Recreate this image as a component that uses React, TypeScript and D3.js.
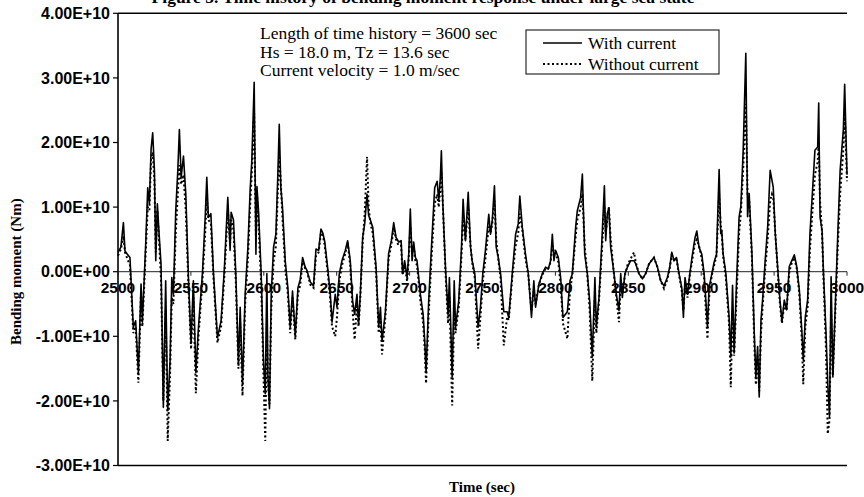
import React from "react";
import * as d3 from "d3";

// time (sec)
const timeSec = [
2500,2502,2503.7,2504.8,2506.4,2508.2,2510.5,2512.1,2514,2515.8,2516.7,2519,2520.4,2521.5,2522.7,2523.8,2525,2525.9,2527,2528.2,
2529.5,2531.1,2532.7,2534.1,2535.7,2536.9,2538,2539.6,2541,2542.1,2543.3,2544.9,2546.5,2548.3,2550.1,2551.7,2553.4,2555.2,2557.9,2559.8,
2560.9,2562,2563.7,2565.5,2568.2,2570.7,2573,2575.3,2576.9,2577.6,2579.2,2580.8,2582.6,2583.8,2585.4,2587.2,2589.1,2590.7,2591.8,2593.4,
2594.6,2595.3,2596.4,2598.2,2599.8,2601,2602.1,2602.8,2603.9,2605.1,2606.7,2608.3,2609.7,2610.6,2611.7,2612.8,2614.7,2616.5,2618.1,2619.7,
2621.6,2623.4,2625,2626.6,2628.4,2629.6,2631.9,2634.1,2635.8,2637.6,2639.2,2640.3,2641.7,2644,2645.6,2646.8,2649,2650.2,2651.8,2653.6,
2655.9,2657.5,2659.3,2660.9,2662.3,2663.9,2665,2666.2,2667.8,2669.2,2670.8,2671.9,2673.1,2674.7,2677,2678.8,2680,2681.1,2683.4,2685.6,
2687.5,2689.1,2690.7,2692.5,2694.2,2695.2,2696.6,2698.3,2699.4,2700.5,2701.7,2702.8,2704,2705.1,2707.4,2709.3,2710.4,2711.3,2713.1,2715,
2717.2,2718.9,2720,2721.1,2721.8,2722.7,2724.6,2726.4,2727.3,2729.2,2730.6,2731.5,2733.7,2735.6,2736.7,2738.3,2740.2,2741.8,2742.9,2744.7,
2747,2748.6,2750.2,2752,2754.3,2755.5,2756.7,2758.2,2759.4,2760.8,2762.4,2764.6,2766.9,2768,2770.4,2772.7,2774.5,2775.6,2777.3,2779.5,
2781.4,2783.6,2785.2,2786.4,2788.7,2791,2793.3,2795.1,2796.7,2797.9,2799,2800.1,2802,2803.6,2805.2,2808.2,2810,2811.6,2813.9,2815,
2817.3,2818.5,2820.1,2821.9,2823.5,2825.3,2827.1,2828.1,2829.9,2831.7,2833.6,2834.5,2835.6,2836.7,2837.9,2840.2,2841.8,2843.6,2844.8,2845.9,
2847.7,2849.4,2851.6,2853.9,2855.1,2857.3,2859.7,2861.9,2864.2,2866.5,2867.6,2870,2872.2,2874.5,2876.8,2878.4,2879.8,2881.4,2883,2884.8,
2886.7,2887.8,2888.9,2890.6,2892.2,2894,2895.8,2897,2898.5,2900.4,2902,2903.2,2904.3,2905.4,2907.3,2908.9,2910.5,2912.3,2913.4,2914.1,
2915,2916.9,2919.1,2920.3,2921.5,2922.6,2924.2,2926,2927.2,2928.8,2930.6,2931.8,2932.9,2934.8,2936.4,2937.5,2938.7,2939.8,2941,2942.1,
2943.9,2945.6,2947.3,2948.5,2949.4,2950.8,2952.4,2954,2955.4,2957,2958.6,2960.4,2962.3,2963.9,2965.5,2967.3,2969.1,2970,2971.4,2973,
2974.6,2976.5,2978,2979.9,2980.6,2981.5,2982.9,2983.8,2985.6,2986.8,2988,2989.1,2990.3,2992.1,2993.7,2995.3,2997.5,2998.4,3000
];

// bending moment, units of 1E+10 Nm
const withCurrent = [
0.30,0.38,0.76,0.32,0.27,0.22,-0.86,-0.76,-1.56,-0.19,-0.78,0.43,1.30,1.05,1.90,2.15,1.56,0.17,1.05,0.58,
0.12,-2.10,-0.14,-2.15,-1.38,-0.09,-0.35,0.94,1.56,2.20,1.46,1.79,1.20,-0.09,-1.11,-0.14,-1.56,-0.86,-0.03,0.84,
1.46,0.84,0.90,-0.03,-1.02,-0.76,0.07,1.15,0.33,0.92,0.80,-0.03,-1.43,-0.55,-1.74,-0.35,0.38,1.30,1.72,2.93,
0.27,1.32,0.93,-0.03,-1.38,-1.89,-0.03,-1.60,-2.12,-0.35,0.38,0.58,1.56,2.28,1.30,1.00,0.17,-0.25,-0.86,-0.30,
-0.99,-0.25,-0.12,0.22,0.07,0.02,-0.16,-0.22,0.35,0.33,0.66,0.61,0.48,0.02,-0.35,-0.78,-0.35,-0.55,-0.03,0.17,
0.33,0.48,0.17,-0.45,-0.66,-0.35,-0.81,-0.35,0.53,0.74,1.20,0.87,0.80,0.69,0.07,-0.86,-0.55,-1.08,-0.62,0.28,
0.48,0.76,0.53,0.46,0.48,-0.03,0.17,-0.09,0.27,0.97,0.17,0.46,0.22,0.17,-0.35,-0.66,-1.08,-1.56,-0.45,0.38,
1.30,1.40,1.10,1.46,1.87,1.10,0.07,-0.66,-0.09,-1.63,-0.14,-0.86,-0.45,0.38,1.12,0.48,1.23,0.38,0.17,-0.03,
-0.86,-0.55,-0.03,0.33,0.89,0.58,0.80,1.33,0.38,0.22,-0.03,-0.62,-0.62,-0.71,-0.03,0.58,0.74,1.17,0.69,0.27,
-0.03,-0.71,-0.14,-0.55,-0.19,-0.03,0.07,0.04,0.17,0.58,0.17,0.33,0.22,-0.09,-0.71,-0.62,-0.14,-0.03,0.69,0.94,
1.15,1.51,0.27,-0.03,-0.45,-1.32,-0.09,-0.86,-0.40,0.38,1.33,0.48,0.90,0.99,0.38,-0.03,-0.35,-0.60,-0.03,-0.40,
-0.03,0.07,0.17,0.17,0.12,-0.03,-0.11,-0.03,0.12,0.19,0.22,0.07,-0.14,-0.22,-0.09,0.07,0.30,0.17,0.22,-0.03,
-0.25,-0.71,-0.09,-0.35,-0.03,0.27,0.53,0.63,0.38,0.27,-0.03,-0.45,-0.86,-0.25,-0.03,0.15,0.27,1.58,0.59,0.64,
0.28,-0.02,-0.69,-1.32,-0.21,-1.26,-0.18,0.85,1.01,1.88,3.38,0.85,1.21,0.28,-0.95,-1.63,-1.16,-1.94,-0.75,-0.44,
0.18,0.70,1.57,1.42,1.31,0.59,0.08,-0.44,-0.77,-0.44,-0.59,0.08,0.18,0.26,0.08,-0.28,-0.95,-1.37,-0.70,-0.44,
0.59,1.31,1.88,1.93,2.61,0.85,0.64,0.02,-0.95,-1.73,-2.24,-0.08,-1.63,-0.44,0.59,1.57,2.20,2.90,1.50
];

const withoutCurrent = [
0.25,0.35,0.55,0.30,0.20,0.10,-0.95,-0.85,-1.72,-0.30,-0.85,0.30,1.00,0.95,1.75,1.85,1.40,0.30,0.95,0.45,
-0.10,-2.00,-0.60,-2.62,-1.60,-0.40,-0.50,0.60,1.20,1.65,1.35,1.50,0.95,-0.20,-1.20,-0.40,-1.88,-1.00,-0.15,0.60,
1.15,0.80,0.75,-0.10,-1.10,-0.85,-0.05,0.95,0.45,0.80,0.65,-0.15,-1.50,-0.80,-1.92,-0.50,0.20,1.05,1.55,2.45,
0.50,1.20,0.75,-0.20,-1.60,-2.62,-0.80,-1.70,-2.05,-0.60,0.15,0.40,1.30,1.80,1.35,0.85,0.05,-0.35,-0.95,-0.40,
-1.05,-0.35,-0.20,0.15,0.05,0.00,-0.20,-0.25,0.25,0.30,0.60,0.58,0.42,-0.05,-0.45,-0.85,-1.00,-0.70,-0.15,0.10,
0.28,0.45,0.10,-0.60,-1.05,-0.50,-0.85,-0.40,0.45,0.90,1.78,1.00,0.75,0.60,0.00,-0.95,-0.75,-1.28,-0.70,0.20,
0.42,0.68,0.50,0.40,0.40,-0.05,0.10,-0.15,0.20,0.70,0.30,0.40,0.15,0.10,-0.45,-0.80,-1.20,-1.73,-0.65,0.20,
1.05,1.20,1.00,1.30,1.55,1.10,0.00,-0.80,-0.40,-2.07,-0.60,-0.95,-0.55,0.25,0.85,0.50,1.00,0.40,0.15,-0.10,
-1.19,-0.70,-0.15,0.20,0.70,0.60,0.75,1.10,0.50,0.20,-0.10,-1.14,-0.70,-0.75,-0.10,0.40,0.60,0.90,0.65,0.20,
-0.05,-0.60,-0.30,-0.50,-0.20,-0.05,0.05,0.05,0.15,0.40,0.30,0.30,0.15,-0.20,-0.80,-1.04,-0.30,-0.05,0.55,0.80,
1.00,1.20,0.40,-0.05,-0.60,-1.69,-0.40,-0.95,-0.45,0.25,1.00,0.60,0.80,1.00,0.50,-0.05,-0.40,-0.78,-0.20,-0.35,
-0.05,0.10,0.20,0.30,0.15,-0.03,-0.11,-0.03,0.12,0.19,0.22,0.07,-0.14,-0.26,-0.12,0.05,0.26,0.18,0.20,-0.05,
-0.30,-0.60,-0.20,-0.40,-0.05,0.20,0.45,0.50,0.40,0.20,-0.10,-0.60,-1.04,-0.40,-0.05,0.10,0.25,1.20,0.70,0.60,
0.25,-0.10,-0.80,-1.79,-0.60,-1.30,-0.40,0.60,0.90,1.60,2.60,1.20,1.10,0.20,-1.10,-1.75,-1.30,-1.85,-0.95,-0.55,
0.05,0.50,1.10,1.20,1.15,0.60,0.05,-0.50,-0.80,-0.50,-0.60,0.00,0.15,0.22,0.05,-0.35,-1.10,-1.74,-0.85,-0.55,
0.35,1.00,1.50,1.70,2.00,1.10,0.60,-0.05,-1.20,-2.51,-2.30,-0.60,-1.60,-0.55,0.40,1.20,1.90,2.50,1.40
];

const xTicks = [2500, 2550, 2600, 2650, 2700, 2750, 2800, 2850, 2900, 2950, 3000];
const yTicks = [-3, -2, -1, 0, 1, 2, 3, 4];
const yTickLabels = ["-3.00E+10", "-2.00E+10", "-1.00E+10", "0.00E+00", "1.00E+10", "2.00E+10", "3.00E+10", "4.00E+10"];
const seriesNames = ["With current", "Without current"];
const noteLines = [
  "Length of time history = 3600 sec",
  "Hs = 18.0 m, Tz = 13.6 sec",
  "Current velocity = 1.0 m/sec",
];
const titleText = "Figure 5. Time history of bending moment response under large sea state";

const W = 864, H = 497;
const L = 118, R = 847, T = 13.3, B = 465.5;

export default function App() {
  const x = d3.scaleLinear().domain([2500, 3000]).range([L, R]);
  const y = d3.scaleLinear().domain([-3, 4]).range([B, T]);
  const mk = (vals: number[]) =>
    d3.line<number>().x((_, i) => x(timeSec[i])).y((d) => y(d))(vals) || "";
  const serif = "'Liberation Serif', 'Times New Roman', serif";
  const sans = "'Liberation Sans', Arial, sans-serif";
  return (
    <svg width={W} height={H} style={{ position: "absolute", left: 0, top: 0, background: "#fff" }}>
      <rect x={0} y={0} width={W} height={H} fill="#fff" />
      <text x={423} y={3} textAnchor="middle" fontFamily={serif} fontWeight="bold" fontSize={17.5}>{titleText}</text>
      {/* frame */}
      <line x1={L} x2={R} y1={T} y2={T} stroke="#000" strokeWidth={1.5} />
      <line x1={L} x2={R} y1={B} y2={B} stroke="#000" strokeWidth={1.5} />
      <line x1={L} x2={L} y1={T} y2={B} stroke="#000" strokeWidth={1.6} />
      {yTicks.map((v, i) => (
        <g key={v}>
          <line x1={L - 5} x2={L} y1={y(v)} y2={y(v)} stroke="#000" strokeWidth={1.2} />
          <text x={L - 8} y={y(v)} dy="0.35em" textAnchor="end" fontFamily={sans} fontWeight="bold" fontSize={16}>{yTickLabels[i]}</text>
        </g>
      ))}
      {/* x axis at zero */}
      <line x1={L} x2={R} y1={y(0)} y2={y(0)} stroke="#222" strokeWidth={1} />
      {xTicks.map((t) => (
        <g key={t}>
          <line x1={x(t)} x2={x(t)} y1={y(0)} y2={y(0) + 4} stroke="#222" strokeWidth={1} />
          <text x={x(t)} y={y(0) + 21} textAnchor="middle" fontFamily={sans} fontWeight="bold" fontSize={15.5}>{t}</text>
        </g>
      ))}
      {/* series */}
      <path d={mk(withoutCurrent)} fill="none" stroke="#000" strokeWidth={2} strokeDasharray="2 2.5" />
      <path d={mk(withCurrent)} fill="none" stroke="#000" strokeWidth={1.6} strokeLinejoin="round" />
      {/* notes */}
      {noteLines.map((s, i) => (
        <text key={s} x={260} y={39 + i * 18.5} fontFamily={serif} fontSize={17.5}>{s}</text>
      ))}
      {/* legend */}
      <rect x={526} y={30} width={193} height={44} fill="#fff" stroke="#000" strokeWidth={1} />
      <line x1={543} x2={582} y1={43} y2={43} stroke="#000" strokeWidth={1.4} />
      <line x1={543} x2={582} y1={64} y2={64} stroke="#000" strokeWidth={2} strokeDasharray="2 2.5" />
      <text x={588} y={43} dy="0.33em" fontFamily={serif} fontSize={17.5}>{seriesNames[0]}</text>
      <text x={588} y={64} dy="0.33em" fontFamily={serif} fontSize={17.5}>{seriesNames[1]}</text>
      {/* axis titles */}
      <text transform={`translate(21,${y(0)}) rotate(-90)`} textAnchor="middle" fontFamily={serif} fontWeight="bold" fontSize={15}>Bending moment (Nm)</text>
      <text x={482} y={492} textAnchor="middle" fontFamily={serif} fontWeight="bold" fontSize={15}>Time (sec)</text>
    </svg>
  );
}
